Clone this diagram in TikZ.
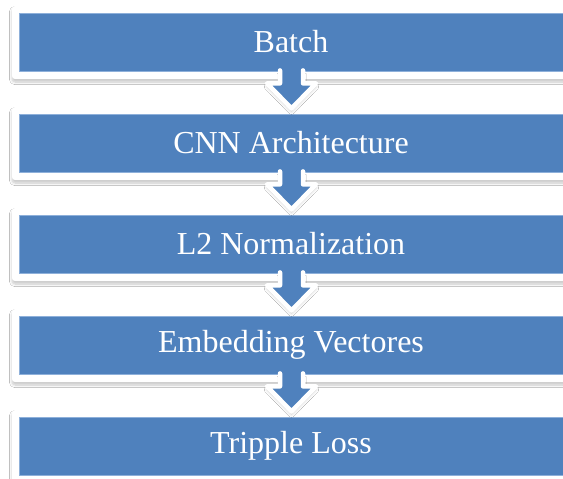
\documentclass[tikz,border=0pt]{standalone}
\usepackage{fontspec}
\setmainfont{Liberation Serif}
\usetikzlibrary{shadows.blur}
\definecolor{boxblue}{HTML}{4F81BD}
\definecolor{edgeblue}{HTML}{8EB0DA}
\tikzset{
  frame/.style={fill=white, rounded corners=3pt, minimum width=570pt, minimum height=73pt, inner sep=0pt,
    blur shadow={shadow xshift=0pt, shadow yshift=-3pt, shadow blur steps=8, shadow opacity=22, shadow blur radius=2.5pt}},
  panel/.style={fill=boxblue, draw=edgeblue, line width=0.8pt, text=white, inner sep=0pt,
    minimum width=544pt, minimum height=58pt, font=\fontsize{32}{38}\selectfont},
  blockarrow/.style={fill=boxblue, draw=white, line width=4.5pt, line join=round, line cap=round,
    blur shadow={shadow xshift=0pt, shadow yshift=-3pt, shadow blur steps=6, shadow opacity=20, shadow blur radius=3pt}}
}
\begin{document}
\begin{tikzpicture}[x=1pt,y=-1pt]
\useasboundingbox (0,0) rectangle (563,479);
\clip (0,0) rectangle (563,479);
\fill[white] (0,0) rectangle (563,479);
\foreach \i/\t in {0/Batch,1/CNN Architecture,2/L2 Normalization,3/Embedding Vectores,4/Tripple Loss}{
  \node[frame] (f\i) at (297,{42.5+101*\i}) {};
  \node[panel] (b\i) at (291,{42+101*\i}) {\t};
}
\foreach \i in {0,1,2,3}{
  \path[blockarrow, shift={(b\i.south)}]
    (-11,-1) -- (-11,12) -- (-24,12) -- (0.5,37) -- (25,12) -- (12,12) -- (12,-1);
}
\end{tikzpicture}
\end{document}
